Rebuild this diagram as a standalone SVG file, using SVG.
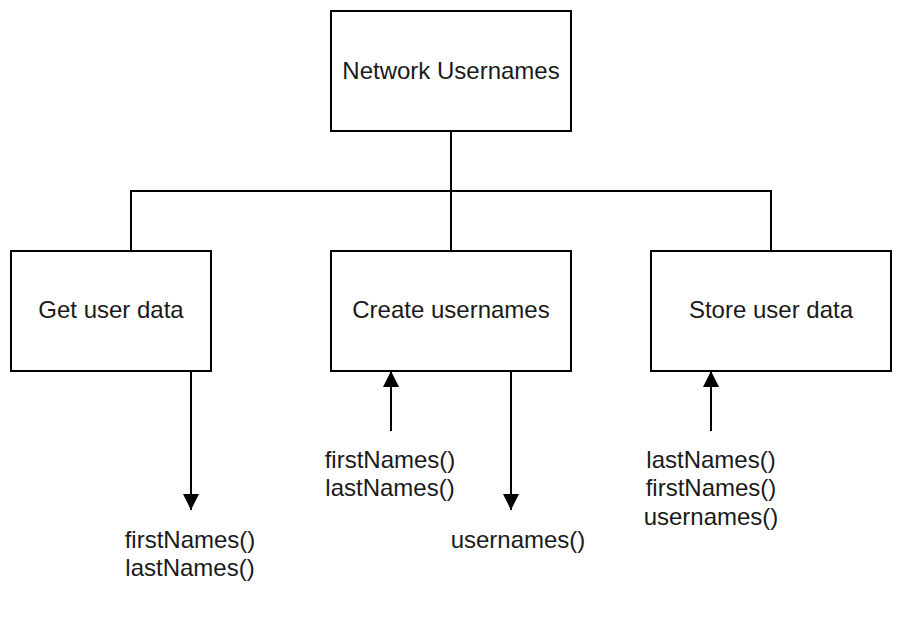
<svg xmlns="http://www.w3.org/2000/svg" width="904" height="622" viewBox="0 0 904 622">
<style>
.box{fill:#fff;stroke:#000;stroke-width:2}
.ln{fill:none;stroke:#000;stroke-width:2}
text{font-family:"Liberation Sans",Arial,sans-serif;font-size:24px;fill:#1a1a1a;text-anchor:middle}
</style>
<defs>
<marker id="ah" viewBox="0 0 16 16" refX="16" refY="8" markerWidth="16" markerHeight="16" markerUnits="userSpaceOnUse" orient="auto">
<path d="M0,0 L16,8 L0,16 Z" fill="#000"/>
</marker>
</defs>
<rect width="904" height="622" fill="#fff"/>
<g id="connectors">
<path class="ln" d="M451,131 V251 M131,251 V191 H771 V251"/>
<path class="ln" d="M191,371 V510" marker-end="url(#ah)"/>
<path class="ln" d="M391,431 V371" marker-end="url(#ah)"/>
<path class="ln" d="M511,371 V510" marker-end="url(#ah)"/>
<path class="ln" d="M711,431 V371" marker-end="url(#ah)"/>
</g>
<g id="network-usernames"><rect class="box" x="331" y="11" width="240" height="120"/><text x="451" y="79">Network Usernames</text></g>
<g id="get-user-data"><rect class="box" x="11" y="251" width="200" height="120"/><text x="111" y="318">Get user data</text></g>
<g id="create-usernames"><rect class="box" x="331" y="251" width="240" height="120"/><text x="451" y="318">Create usernames</text></g>
<g id="store-user-data"><rect class="box" x="651" y="251" width="240" height="120"/><text x="771" y="318">Store user data</text></g>
<g id="label-get"><text x="190" y="548">firstNames()</text><text x="190" y="576">lastNames()</text></g>
<g id="label-create-in"><text x="390" y="468">firstNames()</text><text x="390" y="496">lastNames()</text></g>
<g id="label-create-out"><text x="518" y="548">usernames()</text></g>
<g id="label-store"><text x="711" y="468">lastNames()</text><text x="711" y="496">firstNames()</text><text x="711" y="525">usernames()</text></g>
</svg>
